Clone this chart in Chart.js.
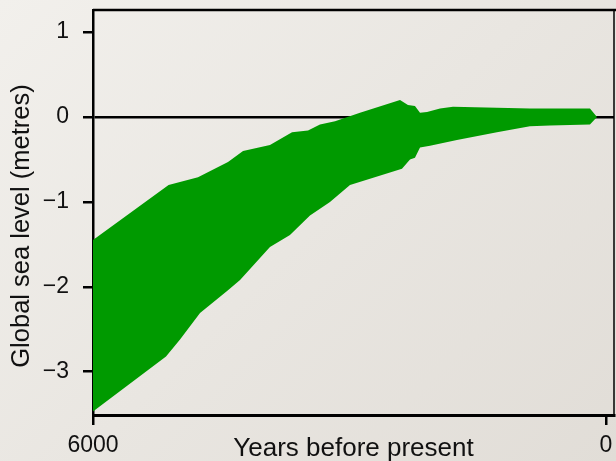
<!DOCTYPE html>
<html>
<head>
<meta charset="utf-8">
<script src="https://cdn.jsdelivr.net/npm/chart.js@4/dist/chart.umd.min.js"></script>
<style>
  html, body { margin: 0; padding: 0; overflow: hidden; width: 616px; height: 461px;
    background: linear-gradient(135deg, #f2f0ec 0%, #e9e6e1 50%, #e1ddd7 100%); }
  #wrap { position: absolute; left: 0; top: 0; width: 640px; height: 470px; }
</style>
</head>
<body>
<div id="wrap"><canvas id="c" width="640" height="470"></canvas></div>
<script>
// Upper bound of the sea-level band
const upperYears  = [6000, 5116, 4772, 4421, 4245, 3930, 3672, 3485, 3345, 3169, 2877, 2409, 2316, 2234, 2175, 2093, 1941, 1789, 1275, 889, 187, 105];
const upperLevels = [-1.45, -0.80, -0.71, -0.53, -0.40, -0.33, -0.18, -0.16, -0.09, -0.05, 0.05, 0.20, 0.14, 0.13, 0.05, 0.06, 0.10, 0.12, 0.11, 0.10, 0.10, 0.0];
// Lower bound of the sea-level band
const lowerYears  = [6000, 5146, 4982, 4748, 4421, 4280, 3930, 3696, 3462, 3228, 2994, 2386, 2292, 2234, 2175, 2058, 1743, 1275, 889, 655, 187, 105];
const lowerLevels = [-3.47, -2.82, -2.62, -2.31, -2.04, -1.92, -1.53, -1.39, -1.16, -1.00, -0.80, -0.61, -0.50, -0.48, -0.36, -0.34, -0.27, -0.18, -0.11, -0.10, -0.09, 0.0];
// Tick labels
const xTickValues = [6000, 0];
const yTickValues = [-3, -2, -1, 0, 1];
const xTitle = 'Years before present';
const yTitle = 'Global sea level (metres)';

const GREEN = '#009a00';
const FONT = 'Liberation Sans';

const lowerData = lowerYears.map((x, i) => ({ x, y: lowerLevels[i] }));
const upperData = upperYears.map((x, i) => ({ x, y: upperLevels[i] }));

const framePlugin = {
  id: 'frame',
  afterDraw(chart) {
    const { ctx, chartArea: a } = chart;
    ctx.save();
    ctx.strokeStyle = '#000';
    ctx.lineWidth = 2.5;
    ctx.beginPath();
    ctx.moveTo(a.left, a.top);
    ctx.lineTo(a.right + 30, a.top);
    ctx.stroke();
    ctx.lineWidth = 1.5;
    ctx.beginPath();
    ctx.moveTo(a.right, a.top);
    ctx.lineTo(a.right, a.bottom);
    ctx.stroke();
    // y-axis title
    ctx.fillStyle = '#111';
    ctx.font = '25.5px "' + FONT + '"';
    ctx.textAlign = 'center';
    ctx.textBaseline = 'middle';
    ctx.translate(22, 226);
    ctx.rotate(-Math.PI / 2);
    ctx.fillText(yTitle, 0, 0);
    ctx.restore();
  }
};

new Chart(document.getElementById('c'), {
  type: 'line',
  data: {
    datasets: [
      { data: lowerData, borderWidth: 0, pointRadius: 0, fill: false, tension: 0,
        backgroundColor: GREEN, borderColor: GREEN },
      { data: upperData, borderWidth: 0, pointRadius: 0, fill: '-1', tension: 0,
        backgroundColor: GREEN, borderColor: GREEN }
    ]
  },
  options: {
    responsive: false,
    animation: false,
    layout: { padding: { top: 10, right: 26, left: 0, bottom: 0 } },
    plugins: { legend: { display: false }, tooltip: { enabled: false } },
    scales: {
      x: {
        type: 'linear',
        reverse: true,
        min: -94,
        max: 6000,
        afterBuildTicks: s => { s.ticks = xTickValues.map(v => ({ value: v })); },
        afterFit: s => { s.height = 55; s.paddingLeft = 0; s.paddingRight = 0; },
        grid: { drawOnChartArea: false, drawTicks: true, tickLength: 10, tickColor: '#000', lineWidth: 2.5 },
        border: { display: true, color: '#000', width: 3 },
        ticks: { color: '#111', padding: 7, maxRotation: 0, autoSkip: false,
          font: { family: FONT, size: 23 }, callback: v => String(v) },
        title: { display: true, text: xTitle, color: '#111',
          font: { family: FONT, size: 26 }, padding: { top: 0, bottom: 6 } }
      },
      y: {
        type: 'linear',
        min: -3.51,
        max: 1.26,
        afterBuildTicks: s => { s.ticks = yTickValues.map(v => ({ value: v })); },
        afterFit: s => { s.width = 93; s.paddingTop = 0; s.paddingBottom = 0; },
        grid: { drawOnChartArea: true, drawTicks: true, tickLength: 10, tickColor: '#000',
          lineWidth: 2.5, color: c => (c.tick && c.tick.value === 0) ? '#000' : 'rgba(0,0,0,0)' },
        border: { display: true, color: '#000', width: 2.5 },
        ticks: { color: '#111', padding: 14,
          font: { family: FONT, size: 23 },
          callback: v => (v < 0 ? '\u2212' + Math.abs(v) : String(v)) }
      }
    }
  },
  plugins: [framePlugin]
});
</script>
</body>
</html>
